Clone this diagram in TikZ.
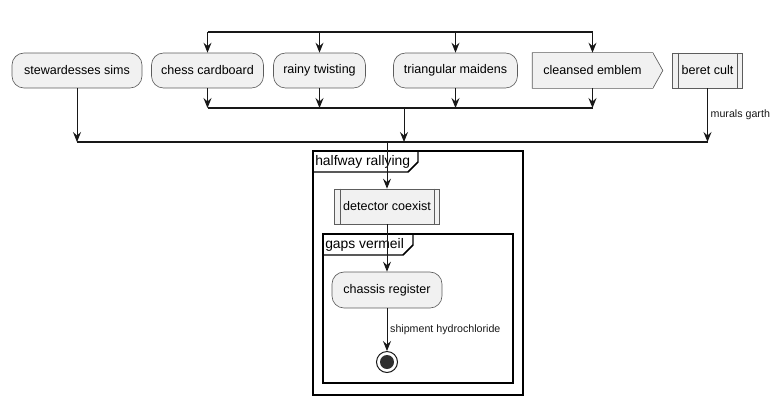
\documentclass[tikz,border=0pt]{standalone}
\usepackage{fontspec}
\setmainfont{Liberation Sans}
\usetikzlibrary{arrows.meta,calc,positioning,backgrounds}
\definecolor{boxfill}{HTML}{F1F1F1}
\definecolor{boxline}{HTML}{181818}
\newcommand{\subbars}[1]{\draw[boxline!70,line width=0.5pt] ($(#1.north west)+(6,0)$)--($(#1.south west)+(6,0)$);
  \draw[boxline!70,line width=0.5pt] ($(#1.north east)+(-6,0)$)--($(#1.south east)+(-6,0)$);}

\begin{document}
\begin{tikzpicture}[x=0.75pt,y=-0.75pt,font=\fontsize{9.4}{11}\selectfont,
  >={Stealth[length=7.5pt,width=6pt,inset=2.6pt]},
  act/.style={draw=boxline!70,line width=0.5pt,fill=boxfill,rounded corners=9pt,minimum height=26.25pt,inner sep=0pt},
  sub/.style={draw=boxline!70,line width=0.5pt,fill=boxfill,minimum height=26.25pt,inner sep=0pt},
  flow/.style={->,boxline,line width=0.75pt},
  bar/.style={boxline,line width=1.6pt},
  frame/.style={black,line width=1.1pt},
  frametitle/.style={font=\fontsize{10.4}{12}\selectfont,inner sep=0pt,anchor=west},
  small/.style={font=\fontsize{8}{9}\selectfont,inner sep=2pt}]
\useasboundingbox (0,0) rectangle (782,405);
\draw[frame] (313,151) rectangle (523,395);
\draw[frame] (313,172) -- (408,172) -- (418,162) -- (418,151);
\node[frametitle] (hrt) at (315,161.5) {halfway rallying};
\draw[frame] (323,234) rectangle (513,383);
\draw[frame] (323,255) -- (403,255) -- (413,245) -- (413,234);
\node[frametitle] (gvt) at (325,244.5) {gaps vermeil};
\node[act,minimum width=97.5pt] (ss) at (77,70.5) {stewardesses sims};
\node[act,minimum width=84pt] (cc) at (207.5,70.5) {chess cardboard};
\node[act,minimum width=69pt] (rt) at (319.5,70.5) {rainy twisting};
\node[act,minimum width=93pt] (tm) at (455.5,70.5) {triangular maidens};
\node[sub,draw=none,minimum width=90pt] (ce) at (592.5,70.5) {cleansed emblem};
\begin{scope}[on background layer]
\draw[draw=boxline!70,line width=0.5pt,fill=boxfill] (ce.north west) -- (ce.north east)
  -- ($(ce.east)+(10,0)$) -- (ce.south east) -- (ce.south west) -- cycle;
\end{scope}
\node[sub,minimum width=52.5pt] (bc) at (707.5,70.5) {beret cult};
\subbars{bc}
\coordinate (fk1) at (207.5,32); \coordinate (fk2) at (592.5,32);
\coordinate (jn1) at (207.5,108); \coordinate (jn2) at (592.5,108);
\coordinate (mg1) at (77,142); \coordinate (mg2) at (707.5,142);
\coordinate (jnm) at (404,108); \coordinate (mgo) at (387,142);
\draw[bar] (fk1) -- (fk2);
\draw[bar] (jn1) -- (jn2);
\draw[bar] (mg1) -- (mg2);
\foreach \n in {cc,rt,tm,ce}{
  \draw[flow] (\n.north |- fk1) -- (\n.north);
  \draw[flow] (\n.south) -- (\n.south |- jn1);}
\draw[flow] (ss.south) -- (ss.south |- mg1);
\draw[flow] (bc.south) -- node[small,right]{murals garth} (bc.south |- mg1);
\draw[flow] (jnm) -- (jnm |- mg1);
\node[sub,minimum width=78.75pt] (dc) at (387,206.5) {detector coexist};
\subbars{dc}
\node[act,minimum width=82.5pt,minimum height=27pt] (cr) at (387,290) {chassis register};
\node[circle,draw=boxline,line width=0.75pt,minimum size=15.75pt,inner sep=0pt] (stp) at (387,362) {};
\fill[boxline!90] (stp.center) circle (7);
\draw[flow] (mgo) -- (dc.north);
\draw[flow] (dc.south) -- (cr.north);
\draw[flow] (cr.south) -- node[small,right]{shipment hydrochloride} (stp.north);
\end{tikzpicture}
\end{document}
